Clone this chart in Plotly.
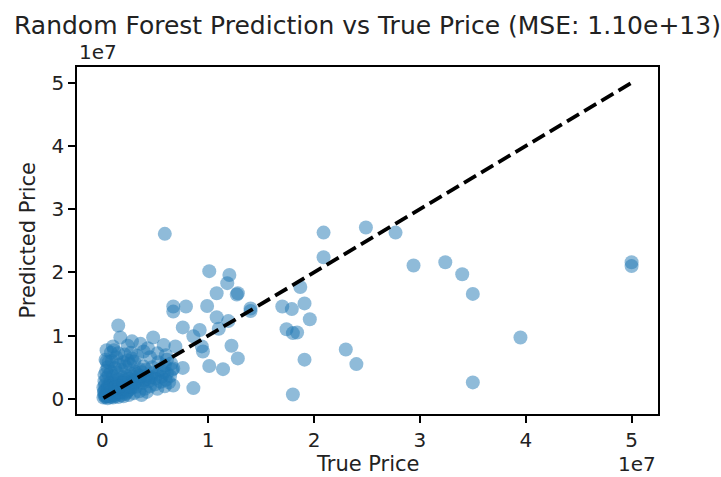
import plotly.graph_objects as go

# ---- data (prices in millions) ----
true_price_m = [
    20.9, 20.9, 24.9, 27.7, 29.4, 32.4, 34.0, 35.0, 39.5, 35.0,
    23.0, 24.0, 50.0, 50.0, 18.7, 19.1, 19.6, 19.1, 18.0, 18.0,
    18.4, 17.4, 17.9, 17.0, 14.0, 14.0, 12.2, 12.8, 10.1, 11.4,
    8.6, 9.4, 9.5, 8.6, 9.2, 7.6, 7.6, 10.8, 11.9, 11.0,
    9.9, 7.9, 6.7, 6.7, 10.1, 12.0, 11.8, 10.8, 12.8, 12.7,
    5.9, 6.9, 6.1, 6.7, 6.7, 4.8, 5.8, 3.6, 2.8, 1.5,
    1.7, 1.0, 1.1, 0.4, 0.8,
    0.1, 0.2, 0.3, 0.4, 0.5, 0.6, 0.7, 0.8, 0.9, 1.0,
    1.1, 1.2, 1.3, 1.4, 1.5, 1.6, 1.7, 1.8, 1.9, 2.0,
    2.1, 2.2, 2.3, 2.4, 2.5, 2.6, 2.7, 2.8, 2.9, 3.0,
    3.2, 3.4, 3.6, 3.8, 4.0, 4.2, 4.4, 4.6, 4.8, 5.0,
    5.2, 5.4, 5.6, 5.8, 6.1, 6.4, 6.6, 5.9, 5.3, 4.7,
    0.3, 0.5, 0.7, 0.9, 1.1, 1.3, 1.5, 1.7, 1.9, 2.1,
    2.3, 2.5, 2.7, 2.9, 3.1, 3.3, 3.5, 3.7, 3.9, 4.1,
    0.2, 0.4, 0.6, 0.8, 1.0, 1.2, 1.4, 1.6, 1.8, 2.0,
    2.2, 2.4, 2.6, 2.8, 3.0, 0.5, 0.3, 0.9, 1.3, 0.4,
    1.5, 2.1, 2.7, 3.3, 3.9, 4.5, 4.3, 2.4, 5.2, 6.0,
    6.5, 3.5, 4.0, 4.5, 5.0, 5.5, 6.0, 3.0, 2.5, 2.0,
    1.5, 1.0, 0.5, 4.2, 5.2, 5.9, 6.3, 3.7, 0.15, 0.25,
    0.35, 0.6, 0.2, 0.1, 0.8, 1.2, 1.8, 2.2, 0.6, 0.3,
    0.4, 0.6, 0.7, 0.9, 1.1, 1.3, 1.6, 1.9, 2.4, 0.2,
    0.5, 0.8, 1.2, 1.6, 2.0, 2.6, 3.1, 3.5, 4.3,
]
predicted_price_m = [
    26.3, 22.4, 27.1, 26.3, 21.1, 21.6, 19.7, 16.6, 9.7, 2.6,
    7.8, 5.5, 21.6, 21.0, 17.7, 15.1, 12.6, 6.2, 0.7, 10.4,
    10.5, 11.0, 14.2, 14.6, 14.3, 13.9, 8.4, 6.4, 5.2, 4.7,
    1.7, 8.3, 7.5, 9.9, 10.9, 11.3, 4.9, 12.9, 12.3, 11.1,
    14.7, 14.6, 14.6, 13.8, 20.2, 19.6, 18.3, 16.7, 16.7, 16.5,
    26.1, 8.3, 6.2, 4.8, 2.1, 9.7, 8.5, 8.7, 9.1, 11.6,
    9.7, 8.3, 7.7, 5.9, 7.3,
    0.2, 0.5, 0.3, 0.8, 0.4, 0.9, 0.6, 1.1, 0.5, 0.9,
    1.3, 0.7, 1.0, 1.6, 1.2, 0.8, 1.5, 1.9, 1.1, 1.4,
    2.2, 1.7, 1.0, 2.0, 2.6, 1.5, 2.3, 1.8, 2.9, 2.4,
    1.9, 2.8, 3.3, 2.5, 3.0, 3.7, 2.8, 3.4, 4.1, 3.2,
    3.8, 4.5, 3.5, 4.2, 4.0, 3.6, 4.6, 5.3, 5.8, 5.0,
    1.5, 2.0, 2.5, 1.8, 2.8, 2.3, 3.1, 2.6, 3.4, 2.9,
    3.6, 3.2, 4.0, 3.5, 4.3, 3.9, 4.7, 4.2, 5.1, 4.6,
    2.8, 3.3, 3.8, 4.3, 3.6, 4.9, 4.1, 5.4, 4.6, 5.8,
    5.1, 6.1, 5.5, 6.4, 5.9, 5.0, 6.2, 6.0, 6.6, 7.7,
    7.2, 7.0, 7.3, 6.8, 7.5, 6.6, 8.0, 8.4, 7.2, 6.9,
    5.6, 1.2, 1.6, 2.0, 2.3, 2.7, 3.0, 0.9, 0.6, 0.4,
    0.3, 0.2, 0.1, 1.1, 1.6, 2.0, 2.6, 0.6, 1.0, 2.2,
    4.4, 5.8, 3.8, 1.8, 0.3, 0.4, 0.6, 0.8, 1.3, 0.6,
    0.4, 0.5, 1.0, 0.8, 0.6, 1.4, 1.1, 1.6, 1.3, 1.2,
    1.6, 2.0, 1.8, 2.0, 2.5, 2.0, 2.7, 3.6, 3.2,
]
tick_values = [0, 1e7, 2e7, 3e7, 4e7, 5e7]
tick_labels = ["0", "1", "2", "3", "4", "5"]
title_text = "Random Forest Prediction vs True Price (MSE: 1.10e+13)"

true_price = [v * 1e6 for v in true_price_m]
predicted_price = [v * 1e6 for v in predicted_price_m]

lo = min(min(true_price), min(predicted_price))
hi = max(max(true_price), max(predicted_price))
pad = 0.05 * (hi - lo)
rng = [lo - pad, hi + pad]

FONT = "DejaVu Sans"
fig = go.Figure()
fig.add_trace(go.Scatter(
    x=true_price, y=predicted_price, mode="markers",
    marker=dict(color="#1f77b4", size=14, opacity=0.5, line=dict(width=0)),
    showlegend=False, hoverinfo="skip"))
fig.add_trace(go.Scatter(
    x=[min(true_price), max(true_price)], y=[min(true_price), max(true_price)],
    mode="lines", line=dict(color="black", width=3.8, dash="14px,6px"),
    showlegend=False, hoverinfo="skip"))

axis_common = dict(
    range=rng, showgrid=False, zeroline=False, showline=True, mirror=True,
    linecolor="black", linewidth=1.5, ticks="outside", ticklen=7, tickwidth=1.5,
    tickcolor="black", tickvals=tick_values, ticktext=tick_labels,
    tickfont=dict(family=FONT, size=20, color="#222"))

fig.update_layout(
    width=721, height=477,
    margin=dict(l=77, r=63, t=67, b=63),
    paper_bgcolor="white", plot_bgcolor="white",
    font=dict(family=FONT, color="#222"),
    xaxis=axis_common, yaxis=axis_common,
    annotations=[
        dict(text=title_text, xref="paper", yref="paper", x=0.5, y=1, yshift=42,
             xanchor="center", yanchor="middle", showarrow=False,
             font=dict(family=FONT, size=25, color="#222")),
        dict(text="True Price", xref="paper", yref="paper", x=0.5, y=0, yshift=-50,
             xanchor="center", yanchor="middle", showarrow=False,
             font=dict(family=FONT, size=21, color="#222")),
        dict(text="Predicted Price", xref="paper", yref="paper", x=0, y=0.5, xshift=-50,
             xanchor="center", yanchor="middle", textangle=-90, showarrow=False,
             font=dict(family=FONT, size=21, color="#222")),
        dict(text="1e7", xref="paper", yref="paper", x=1, y=0, yshift=-50,
             xanchor="right", yanchor="middle", showarrow=False,
             font=dict(family=FONT, size=20, color="#222")),
        dict(text="1e7", xref="paper", yref="paper", x=0, y=1, yshift=15,
             xanchor="left", yanchor="middle", showarrow=False,
             font=dict(family=FONT, size=20, color="#222")),
    ],
)

fig.write_html("out.html", config={"displayModeBar": False},
               post_script="document.body.style.margin='0';document.body.style.overflow='hidden';")
